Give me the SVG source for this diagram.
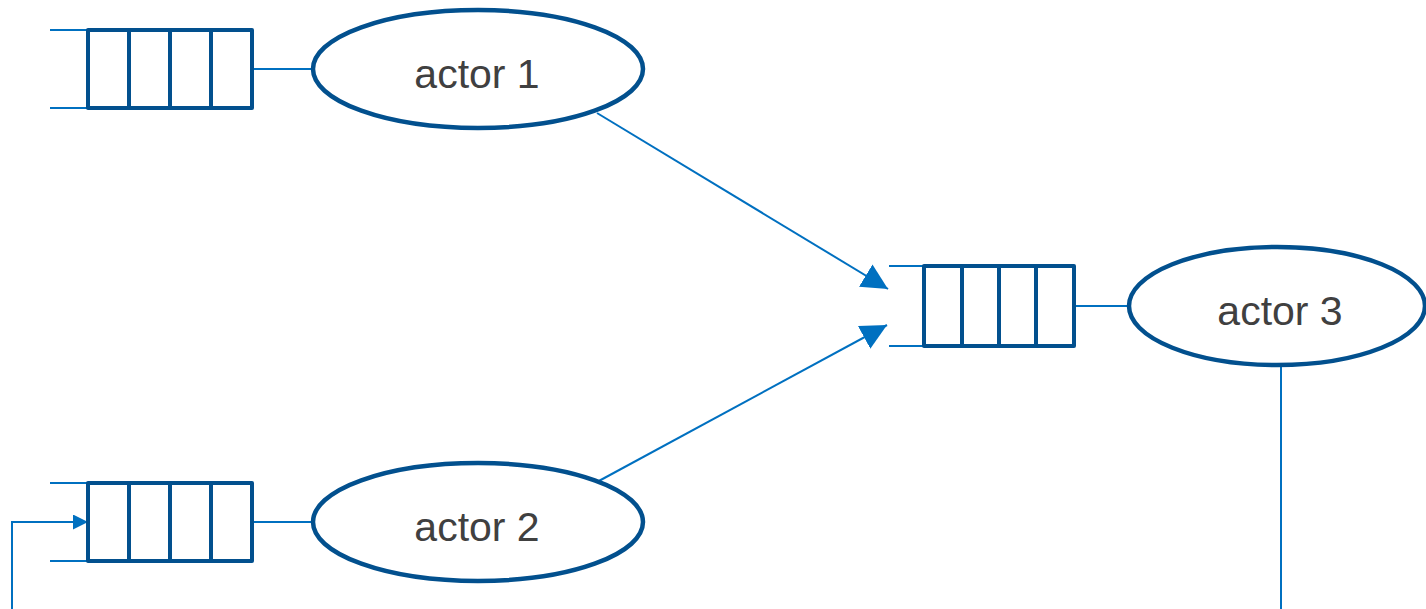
<svg xmlns="http://www.w3.org/2000/svg" width="1426" height="609" viewBox="0 0 1426 609">
<style>
.q{fill:#fff;stroke:#02508e;stroke-width:4;stroke-linejoin:round}
.d{stroke:#02508e;stroke-width:4}
.t{stroke:#0070c0;stroke-width:2;fill:none}
.e{fill:#fff;stroke:#02508e;stroke-width:4.5}
.lbl{font-family:"Liberation Sans",Arial,sans-serif;font-size:41px;fill:#404040;text-anchor:middle}
</style>
<defs>
<marker id="big" viewBox="0 0 10 10" refX="10" refY="5" markerUnits="userSpaceOnUse" markerWidth="26" markerHeight="26" orient="auto"><path d="M0,0 L10,5 L0,10 z" fill="#0070c0"/></marker>
<marker id="small" viewBox="0 0 10 10" refX="10" refY="5" markerUnits="userSpaceOnUse" markerWidth="15" markerHeight="15" orient="auto"><path d="M0,0 L10,5 L0,10 z" fill="#0070c0"/></marker>
</defs>
<g id="connectors">
<line class="t" x1="597" y1="113" x2="888" y2="289" marker-end="url(#big)"/>
<line class="t" x1="597" y1="482" x2="887" y2="325" marker-end="url(#big)"/>
<polyline class="t" points="12,609 12,522 88,522" marker-end="url(#small)"/>
<line class="t" x1="1281" y1="365" x2="1281" y2="609"/>
</g>
<g id="queue1">
<line class="t" x1="50" y1="30" x2="88" y2="30"/>
<line class="t" x1="50" y1="108" x2="88" y2="108"/>
<line class="t" x1="252" y1="69" x2="313" y2="69"/>
<rect class="q" x="88" y="30" width="164" height="78"/>
<line class="d" x1="129" y1="30" x2="129" y2="108"/>
<line class="d" x1="170" y1="30" x2="170" y2="108"/>
<line class="d" x1="211" y1="30" x2="211" y2="108"/>
</g>
<g id="actor1">
<ellipse class="e" cx="478" cy="69" rx="165" ry="59"/>
<text class="lbl" x="477" y="88">actor 1</text>
</g>
<g id="queue2">
<line class="t" x1="50" y1="483" x2="88" y2="483"/>
<line class="t" x1="50" y1="561" x2="88" y2="561"/>
<line class="t" x1="252" y1="522" x2="313" y2="522"/>
<rect class="q" x="88" y="483" width="164" height="78"/>
<line class="d" x1="129" y1="483" x2="129" y2="561"/>
<line class="d" x1="170" y1="483" x2="170" y2="561"/>
<line class="d" x1="211" y1="483" x2="211" y2="561"/>
</g>
<g id="actor2">
<ellipse class="e" cx="478" cy="522" rx="165" ry="59"/>
<text class="lbl" x="477" y="541">actor 2</text>
</g>
<g id="queue3">
<line class="t" x1="889" y1="266" x2="924" y2="266"/>
<line class="t" x1="889" y1="346" x2="924" y2="346"/>
<line class="t" x1="1074" y1="306" x2="1129" y2="306"/>
<rect class="q" x="924" y="266" width="150" height="80"/>
<line class="d" x1="962" y1="266" x2="962" y2="346"/>
<line class="d" x1="999" y1="266" x2="999" y2="346"/>
<line class="d" x1="1036" y1="266" x2="1036" y2="346"/>
</g>
<g id="actor3">
<ellipse class="e" cx="1277" cy="306" rx="148" ry="59"/>
<text class="lbl" x="1280" y="325">actor 3</text>
</g>
</svg>
